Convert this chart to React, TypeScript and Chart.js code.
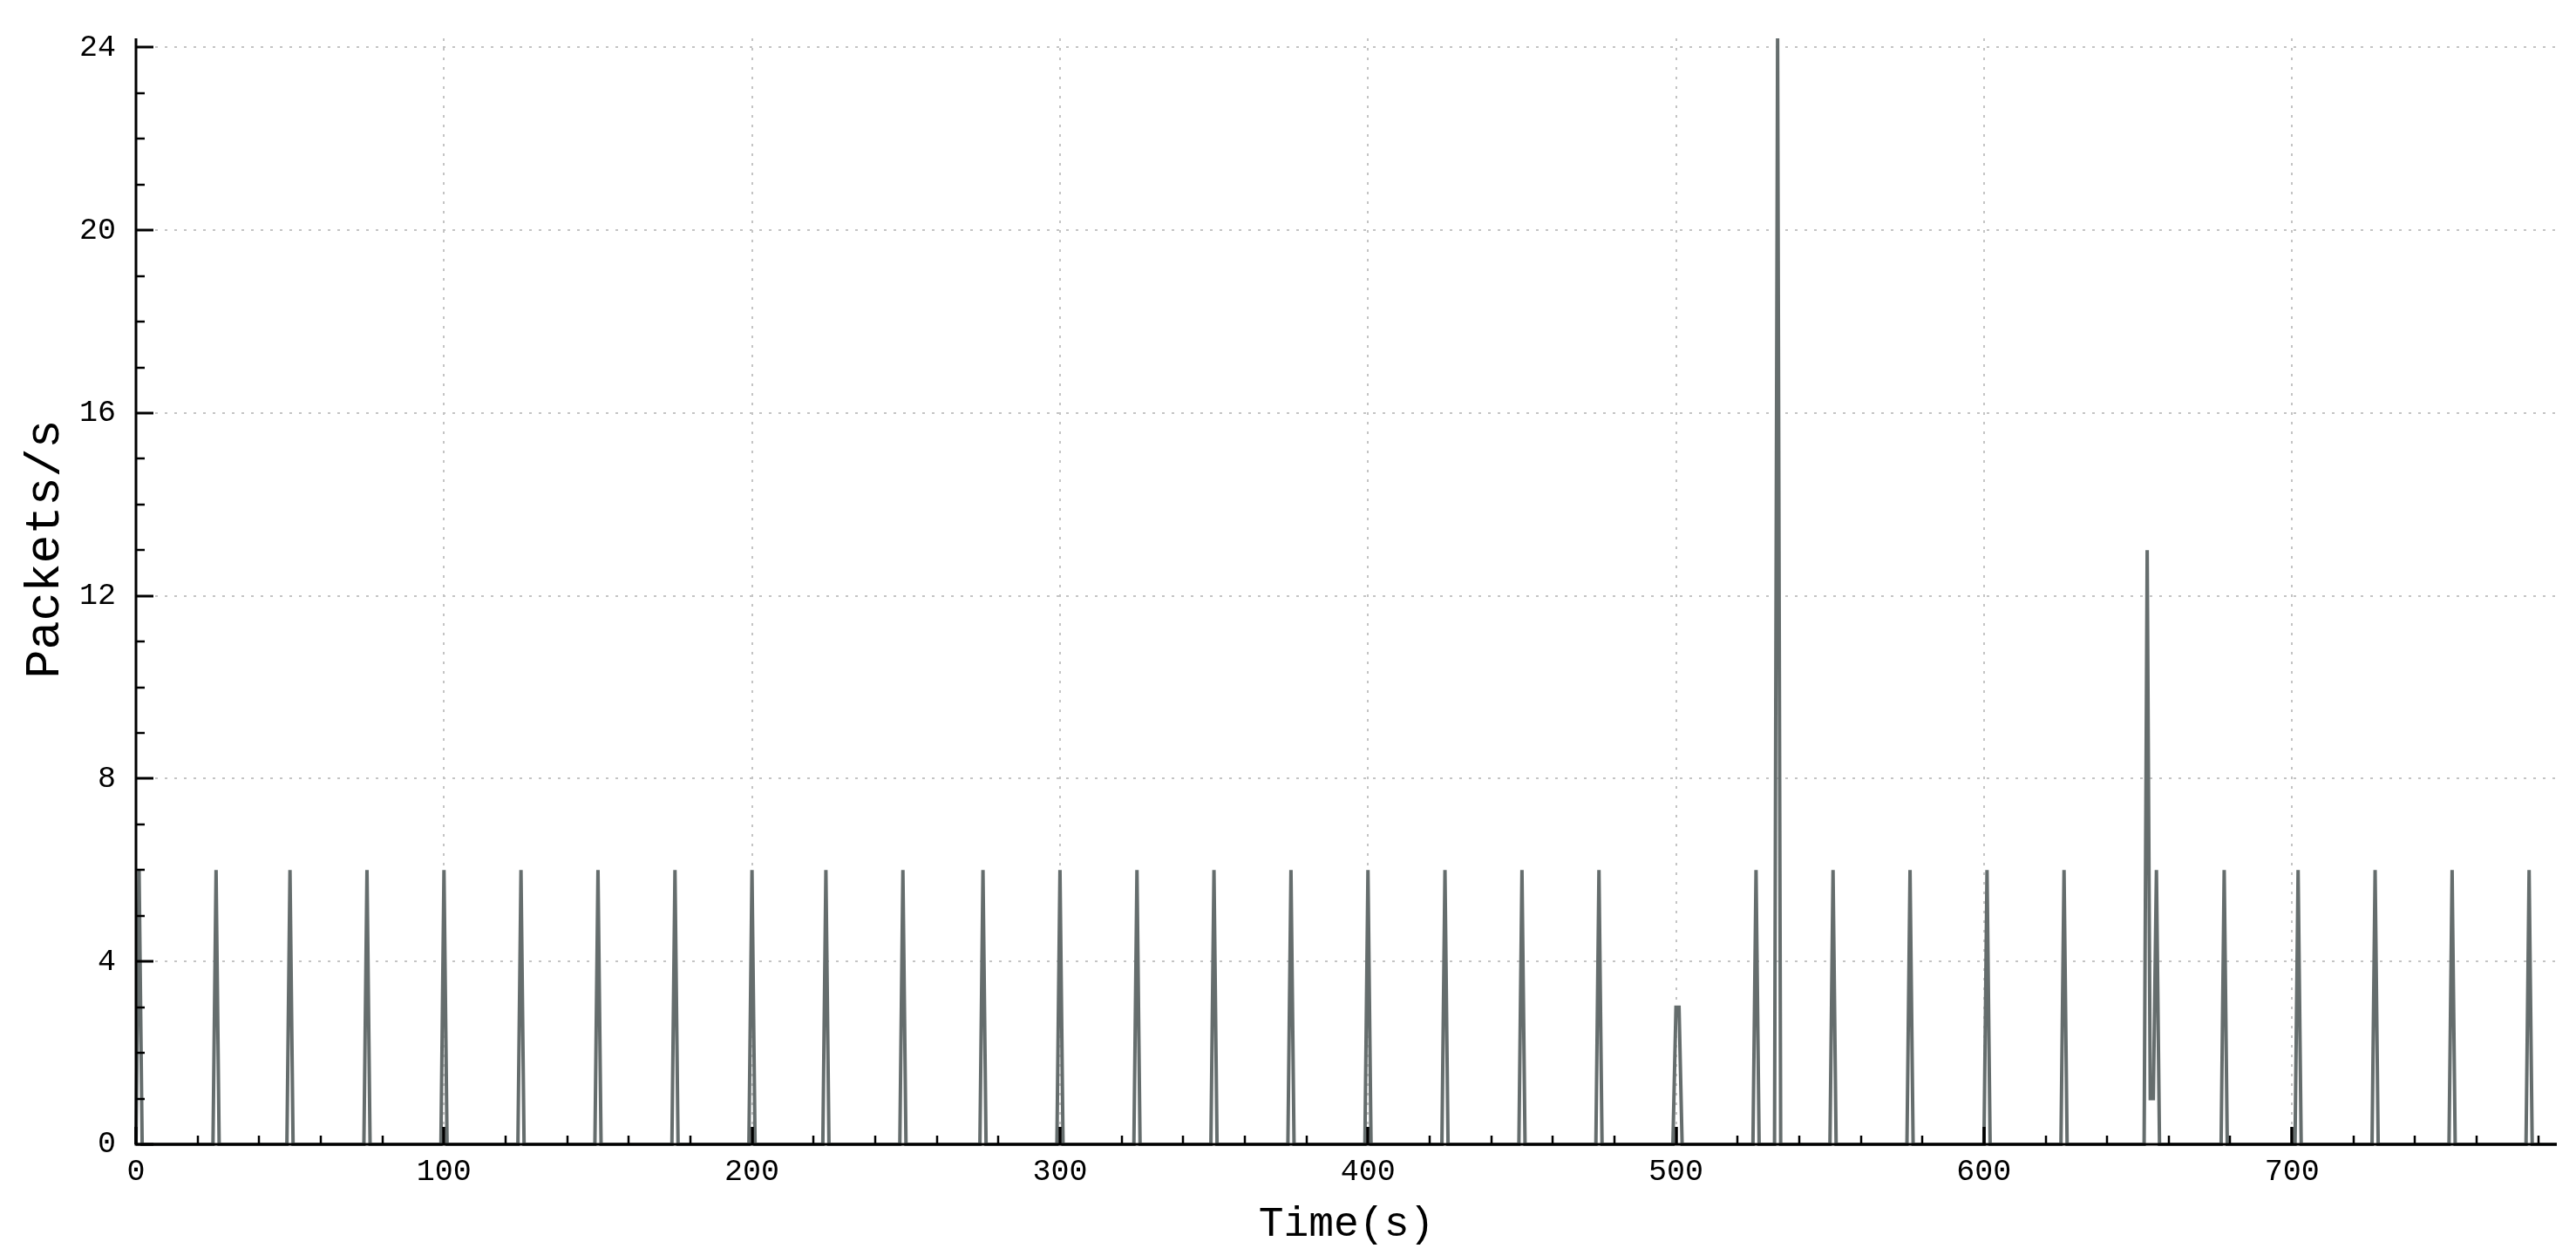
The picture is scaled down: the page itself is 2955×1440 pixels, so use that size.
import React, { useEffect, useRef } from "react";
import { Chart, registerables } from "chart.js";

Chart.register(...registerables);

// ---- data ----
const X_MIN = 0;
const X_MAX = 786;
const Y_MIN = 0;
const Y_MAX = 24.2;

const xTickValues = [0, 100, 200, 300, 400, 500, 600, 700];
const yTickValues = [0, 4, 8, 12, 16, 20, 24];
const xMinorStep = 20;
const yMinorStep = 1;

// packet-rate events (time in s, packets/s); all other seconds are 0
const eventTimes = [
  1, 26, 50, 75, 100, 125, 150, 175, 200, 224, 249, 275, 300, 325, 350, 375,
  400, 425, 450, 475, 500, 501, 526, 533, 551, 576, 601, 626, 653, 654, 655,
  656, 678, 702, 727, 752, 777,
];
const eventValues = [
  6, 6, 6, 6, 6, 6, 6, 6, 6, 6, 6, 6, 6, 6, 6, 6,
  6, 6, 6, 6, 3, 3, 6, 24.2, 6, 6, 6, 6, 13, 1, 1,
  6, 6, 6, 6, 6, 6,
];

const xTitle = "Time(s)";
const yTitle = "Packets/s";

const FONT = "'Liberation Mono', 'DejaVu Sans Mono', monospace";

function buildPoints() {
  const ys: number[] = new Array(X_MAX + 1).fill(0);
  eventTimes.forEach((t, i) => {
    ys[t] = eventValues[i];
  });
  return ys.map((y, x) => ({ x, y }));
}

const innerAxesPlugin = {
  id: "innerAxes",
  afterDatasetsDraw(chart: any) {
    const { ctx, chartArea, scales } = chart;
    const { left, right, top, bottom } = chartArea;
    const xs = scales.x;
    const ys = scales.y;
    ctx.save();
    ctx.strokeStyle = "#000";
    // x ticks (inside, upward)
    for (let v = X_MIN; v <= X_MAX; v += xMinorStep) {
      const major = xTickValues.includes(v);
      const px = Math.round(xs.getPixelForValue(v));
      ctx.lineWidth = major ? 3.5 : 2.5;
      ctx.beginPath();
      ctx.moveTo(px, bottom);
      ctx.lineTo(px, bottom - (major ? 20 : 10));
      ctx.stroke();
    }
    // y ticks (inside, rightward)
    for (let v = Y_MIN; v <= Y_MAX; v += yMinorStep) {
      const major = yTickValues.includes(v);
      const py = Math.round(ys.getPixelForValue(v));
      ctx.lineWidth = major ? 3 : 2.5;
      ctx.beginPath();
      ctx.moveTo(left, py);
      ctx.lineTo(left + (major ? 20 : 10), py);
      ctx.stroke();
    }
    // axis lines
    ctx.lineWidth = 3;
    ctx.beginPath();
    ctx.moveTo(left, top);
    ctx.lineTo(left, bottom);
    ctx.lineTo(right, bottom);
    ctx.stroke();
    ctx.restore();
  },
  afterDraw(chart: any) {
    const { ctx, chartArea } = chart;
    ctx.save();
    ctx.fillStyle = "#000";
    ctx.textAlign = "center";
    ctx.textBaseline = "alphabetic";
    ctx.font = `48px ${FONT}`;
    ctx.fillText(xTitle, (chartArea.left + chartArea.right) / 2, 1418);
    ctx.translate(67, 630);
    ctx.rotate(-Math.PI / 2);
    ctx.font = `55px ${FONT}`;
    ctx.fillText(yTitle, 0, 0);
    ctx.restore();
  },
};

export default function App() {
  const canvasRef = useRef<HTMLCanvasElement | null>(null);

  useEffect(() => {
    document.body.style.margin = "0";
    const canvas = canvasRef.current;
    if (!canvas) return;
    Chart.defaults.font.family = FONT;
    Chart.defaults.color = "#000";

    const chart = new Chart(canvas, {
      type: "line",
      data: {
        datasets: [
          {
            data: buildPoints(),
            borderColor: "#656d6d",
            borderWidth: 4,
            pointRadius: 0,
            tension: 0,
            fill: false,
            clip: false as any,
          },
        ],
      },
      options: {
        animation: false,
        responsive: false,
        devicePixelRatio: 1,
        events: [],
        layout: { padding: { top: 42, right: 22, left: 0, bottom: 0 } },
        plugins: {
          legend: { display: false },
          tooltip: { enabled: false },
          title: { display: false },
        },
        scales: {
          x: {
            type: "linear",
            min: X_MIN,
            max: X_MAX,
            afterBuildTicks: (scale: any) => {
              scale.ticks = xTickValues.map((v) => ({ value: v }));
            },
            afterFit: (scale: any) => {
              scale.height = 127;
            },
            ticks: {
              font: { size: 35 },
              color: "#000",
              padding: 11,
              maxRotation: 0,
              autoSkip: false,
              callback: (v: any) => String(v),
            },
            grid: {
              drawTicks: false,
              color: (c: any) => (c.tick && c.tick.value === 0 ? "rgba(0,0,0,0)" : "#c4c4c4"),
              lineWidth: 2,
            },
            border: { display: false, dash: [3, 8] },
          },
          y: {
            type: "linear",
            min: Y_MIN,
            max: Y_MAX,
            afterBuildTicks: (scale: any) => {
              scale.ticks = yTickValues.map((v) => ({ value: v }));
            },
            afterFit: (scale: any) => {
              scale.width = 156;
            },
            ticks: {
              font: { size: 35 },
              color: "#000",
              padding: 23,
              autoSkip: false,
              callback: (v: any) => String(v),
            },
            grid: {
              drawTicks: false,
              color: (c: any) => (c.tick && c.tick.value === 0 ? "rgba(0,0,0,0)" : "#c4c4c4"),
              lineWidth: 2,
            },
            border: { display: false, dash: [3, 8] },
          },
        },
      },
      plugins: [innerAxesPlugin],
    });

    return () => {
      chart.destroy();
    };
  }, []);

  return (
    <div style={{ width: 2955, height: 1440, background: "#fff" }}>
      <canvas
        ref={canvasRef}
        width={2955}
        height={1440}
        style={{ display: "block", width: 2955, height: 1440 }}
      />
    </div>
  );
}
